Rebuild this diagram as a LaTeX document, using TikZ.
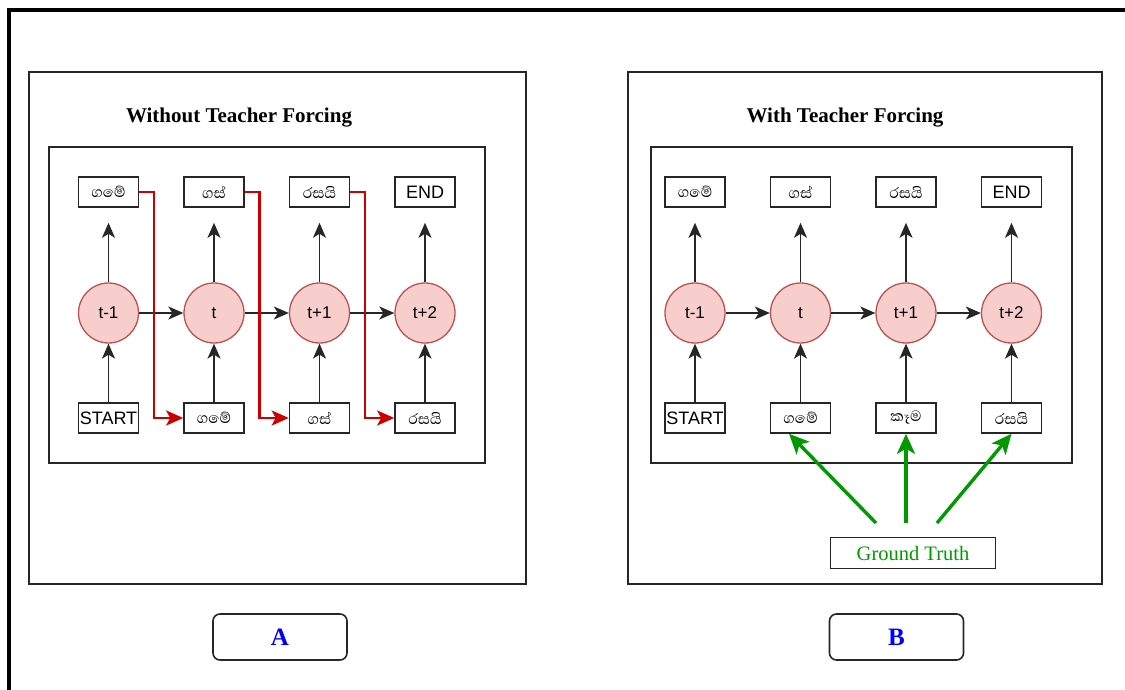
\documentclass[tikz,border=0pt]{standalone}
\usepackage{fontspec}
\setmainfont{Liberation Serif}
\newfontfamily\labelsans{Liberation Sans}
\newfontfamily\sinhala[Script=Sinhala]{Abhaya Libre}
\usetikzlibrary{arrows.meta,calc}

\definecolor{cellfill}{HTML}{F8CECC}
\definecolor{celldraw}{HTML}{B85450}
\definecolor{copyred}{HTML}{CC0000}
\definecolor{truthgreen}{HTML}{009900}
\definecolor{tagblue}{HTML}{0000FF}

\tikzset{
  panel/.style={draw=black!85, line width=1.8pt},
  cell/.style={circle, draw=celldraw, fill=cellfill, line width=1.3pt,
    minimum size=60pt, inner sep=0pt, font=\labelsans\fontsize{17}{17}\selectfont},
  tok/.style={draw=black!85, line width=1.6pt, minimum width=60pt, minimum height=30pt,
    inner sep=0pt, font=\sinhala\fontsize{19}{19}\selectfont},
  tokl/.style={tok, font=\labelsans\fontsize{18}{18}\selectfont},
  flow/.style={-{Stealth[length=15pt,width=13pt,inset=4pt]}, line width=1.6pt, black!85},
  copyline/.style={-{Stealth[length=17pt,width=15pt,inset=4pt]}, line width=2.6pt, copyred},
  truth/.style={-{Stealth[length=20pt,width=18pt,inset=5pt]}, line width=3.4pt, truthgreen},
  paneltitle/.style={font=\bfseries\fontsize{21}{21}\selectfont},
  tag/.style={draw=black!85, line width=1.6pt, rounded corners=7pt, minimum width=134pt,
    minimum height=46pt, font=\bfseries\fontsize{25}{25}\selectfont, text=tagblue},
}

\begin{document}
\begin{tikzpicture}[x=1pt, y=-1pt]
\useasboundingbox (0,0) rectangle (1125,690);

% outer frame
\draw[line width=4pt, black] (9,700) -- (9,10) -- (1135,10);

% ---------- A: without teacher forcing ----------
\draw[panel] (29,72) rectangle (526,584);
\draw[panel] (49,147) rectangle (485,463);
\node[paneltitle] (titleA) at (239,118) {Without Teacher Forcing};

\node[cell] (a1) at (108.5,313) {t-1};
\node[cell] (a2) at (214,313) {t};
\node[cell] (a3) at (319.5,313) {t+1};
\node[cell] (a4) at (425,313) {t+2};

\node[tok]  (ao1) at (108.5,192) {ගමේ};
\node[tok]  (ao2) at (214,192) {ගස්};
\node[tok]  (ao3) at (319.5,192) {රසයි};
\node[tokl] (ao4) at (425,192) {END};

\node[tokl] (ai1) at (108.5,418) {START};
\node[tok]  (ai2) at (214,418) {ගමේ};
\node[tok]  (ai3) at (319.5,418) {ගස්};
\node[tok]  (ai4) at (425,418) {රසයි};

\foreach \i in {1,2,3,4}{
  \draw[flow] (a\i.north) -- ($(ao\i.south)+(0,15)$);
  \draw[flow] (ai\i.north) -- (a\i.south);
}
\draw[flow] (a1.east) -- (a2.west);
\draw[flow] (a2.east) -- (a3.west);
\draw[flow] (a3.east) -- (a4.west);

% previous prediction fed back as next input
\draw[copyline] (ao1.east) -- ++(14.5,0) |- (ai2.west);
\draw[copyline] (ao2.east) -- ++(14.5,0) |- (ai3.west);
\draw[copyline] (ao3.east) -- ++(14.5,0) |- (ai4.west);

\node[tag] (tagA) at (280,637) {A};

% ---------- B: with teacher forcing ----------
\draw[panel] (628,72) rectangle (1102,584);
\draw[panel] (651,147) rectangle (1072,463);
\node[paneltitle] (titleB) at (845,118) {With Teacher Forcing};

\node[cell] (b1) at (695,313) {t-1};
\node[cell] (b2) at (800.5,313) {t};
\node[cell] (b3) at (906,313) {t+1};
\node[cell] (b4) at (1011.5,313) {t+2};

\node[tok]  (bo1) at (695,192) {ගමේ};
\node[tok]  (bo2) at (800.5,192) {ගස්};
\node[tok]  (bo3) at (906,192) {රසයි};
\node[tokl] (bo4) at (1011.5,192) {END};

\node[tokl] (bi1) at (695,418) {START};
\node[tok]  (bi2) at (800.5,418) {ගමේ};
\node[tok]  (bi3) at (906,418) {කෑම};
\node[tok]  (bi4) at (1011.5,418) {රසයි};

\foreach \i in {1,2,3,4}{
  \draw[flow] (b\i.north) -- ($(bo\i.south)+(0,15)$);
  \draw[flow] (bi\i.north) -- (b\i.south);
}
\draw[flow] (b1.east) -- (b2.west);
\draw[flow] (b2.east) -- (b3.west);
\draw[flow] (b3.east) -- (b4.west);

% ground truth tokens supplied as inputs
\node[draw=black!85, line width=1.6pt, minimum width=165pt, minimum height=31pt,
  inner sep=0pt, text=truthgreen, font=\fontsize{20.5}{20.5}\selectfont]
  (gt) at (913,553) {Ground Truth};
\coordinate (g1) at (876,523);
\coordinate (g2) at (906,523);
\coordinate (g3) at (937,523);
\draw[truth] (g1) -- (bi2.234);
\draw[truth] (g2) -- (bi3.south);
\draw[truth] (g3) -- (bi4.south);

\node[tag] (tagB) at (896.5,637) {B};
\end{tikzpicture}
\end{document}
